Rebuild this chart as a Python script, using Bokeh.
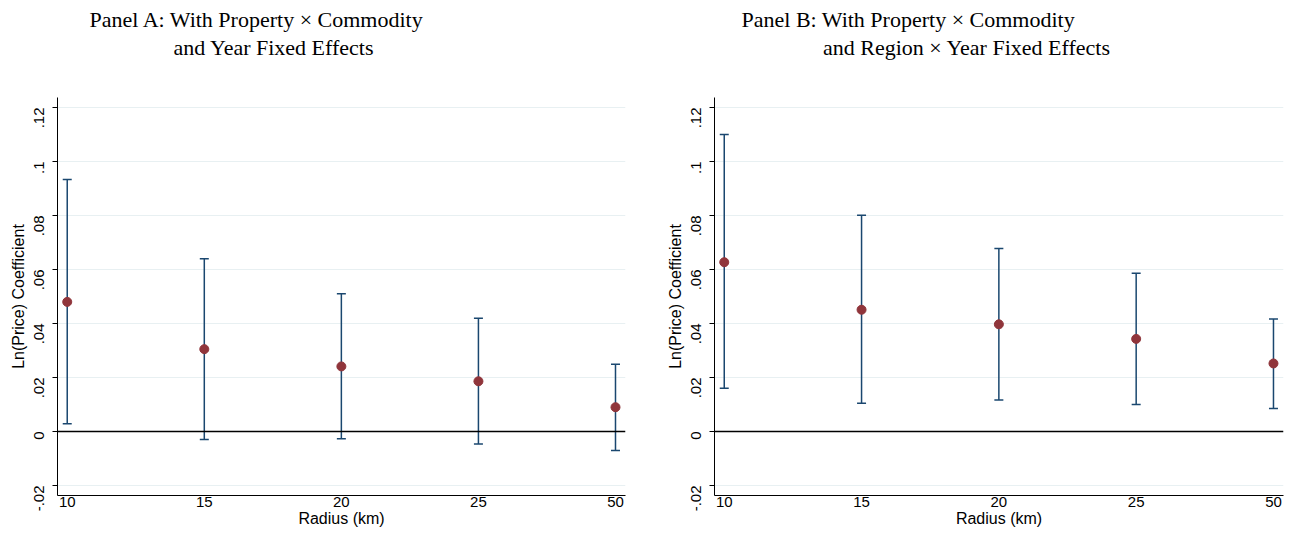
import math
from bokeh.plotting import figure
from bokeh.models import Range1d, FixedTicker, Title, Whisker, ColumnDataSource, TeeHead, Span
from bokeh.layouts import row
from bokeh.embed import file_html
from bokeh.resources import INLINE

radius = ["10", "15", "20", "25", "50"]
a_coef = [0.048, 0.0305, 0.0241, 0.0186, 0.009]
a_upper = [0.0933, 0.064, 0.051, 0.0419, 0.0249]
a_lower = [0.0029, -0.003, -0.0027, -0.0046, -0.007]
b_coef = [0.0627, 0.0451, 0.0397, 0.0343, 0.0252]
b_upper = [0.110, 0.0801, 0.0678, 0.0586, 0.0417]
b_lower = [0.016, 0.0105, 0.0117, 0.010, 0.0085]
y_ticks = [-0.02, 0, 0.02, 0.04, 0.06, 0.08, 0.1, 0.12]
y_tick_labels = ["-.02", "0", ".02", ".04", ".06", ".08", ".1", ".12"]
title_a = ["Panel A: With Property \u00d7 Commodity", "and Year Fixed Effects"]
title_b = ["Panel B: With Property \u00d7 Commodity", "and Region \u00d7 Year Fixed Effects"]
x_label = "Radius (km)"
y_label = "Ln(Price) Coefficient"

NAVY = "#1a476f"
MAROON = "#90353b"
GRID = "#e8f0f2"
SANS = "Liberation Sans"
SERIF = "Liberation Serif"

xpos = list(range(1, len(radius) + 1))


def make_panel(coef, upper, lower, titles, width, bl, br, offsets):
    src = ColumnDataSource(dict(x=xpos, coef=coef, upper=upper, lower=lower))
    p = figure(width=width, height=534, output_backend="svg", toolbar_location=None,
               x_range=Range1d(0.929, 5.073),
               y_range=Range1d(-0.0237, 0.1237),
               min_border_left=bl, min_border_right=br, min_border_top=97, min_border_bottom=39,
               title=None)
    p.outline_line_color = None
    p.background_fill_color = "white"
    p.border_fill_color = "white"

    ticker = FixedTicker(ticks=y_ticks)
    p.yaxis.ticker = ticker
    p.ygrid.ticker = ticker
    p.yaxis.major_label_overrides = {t: l for t, l in zip(y_ticks, y_tick_labels)}
    p.xaxis.ticker = FixedTicker(ticks=xpos)
    p.xaxis.major_label_overrides = {i: r for i, r in zip(xpos, radius)}
    p.ygrid.grid_line_color = GRID
    p.ygrid.grid_line_width = 1
    p.xgrid.grid_line_color = None

    p.yaxis.major_label_orientation = math.pi / 2
    p.yaxis.major_tick_out = 5
    p.yaxis.major_tick_in = 0
    p.yaxis.major_tick_line_color = "black"
    p.yaxis.major_label_standoff = 13
    p.yaxis.axis_label = y_label
    p.yaxis.axis_label_standoff = 0
    p.xaxis.axis_label = x_label
    p.xaxis.major_tick_line_color = None
    p.xaxis.major_tick_out = 0
    p.xaxis.major_tick_in = 0
    p.xaxis.major_label_standoff = 1
    p.xaxis.axis_label_standoff = 0
    for ax in (p.xaxis, p.yaxis):
        ax.minor_tick_line_color = None
        ax.axis_line_color = "black"
        ax.axis_line_width = 1
        ax.major_label_text_font = SANS
        ax.major_label_text_font_size = "15px"
        ax.major_label_text_color = "black"
        ax.axis_label_text_font = SANS
        ax.axis_label_text_font_size = "16px"
        ax.axis_label_text_font_style = "normal"
        ax.axis_label_text_color = "black"

    p.add_layout(Span(location=0, dimension="width", line_color="black", line_width=1.5))

    w = Whisker(base="x", upper="upper", lower="lower", source=src,
                line_color=NAVY, line_width=1.5,
                upper_head=TeeHead(size=9, line_color=NAVY, line_width=1.5),
                lower_head=TeeHead(size=9, line_color=NAVY, line_width=1.5))
    p.add_layout(w)
    p.scatter("x", "coef", source=src, size=9, fill_color=MAROON, line_color=MAROON)

    # spacer between the frame and the two title lines
    p.add_layout(Title(text=" ", text_font_size="1px", standoff=33), "above")
    p.add_layout(Title(text=titles[1], align="left", offset=offsets[1], standoff=3,
                       text_font=SERIF, text_font_size="22px", text_font_style="normal",
                       text_color="black"), "above")
    p.add_layout(Title(text=titles[0], align="left", offset=offsets[0], standoff=0,
                       text_font=SERIF, text_font_size="22px", text_font_style="normal",
                       text_color="black"), "above")
    return p


pa = make_panel(a_coef, a_upper, a_lower, title_a, 645, 57, 20, [32, 116])
pb = make_panel(b_coef, b_upper, b_lower, title_b, 646, 69, 8, [27, 108.5])
layout = row(pa, pb, spacing=0)
open("out.html", "w").write(file_html(layout, INLINE))
